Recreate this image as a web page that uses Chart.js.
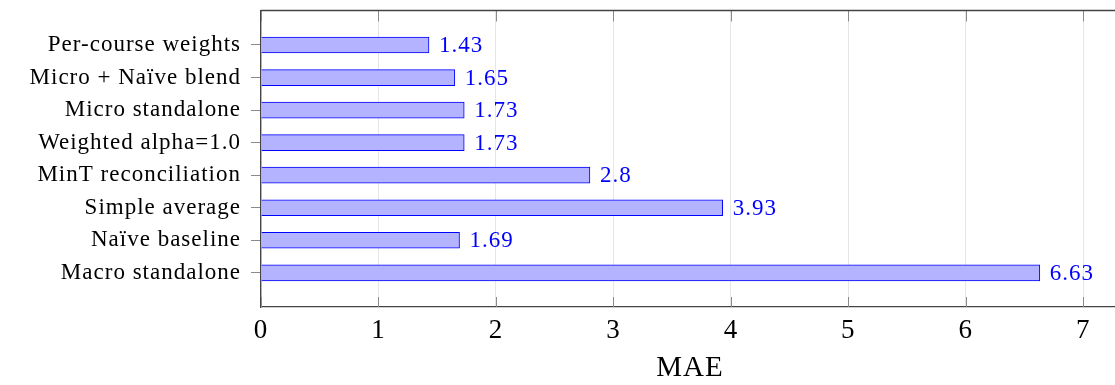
<!DOCTYPE html>
<html><head><meta charset="utf-8">
<script src="https://cdn.jsdelivr.net/npm/chart.js@4/dist/chart.umd.min.js"></script>
<style>html,body{margin:0;padding:0;background:#fff;overflow:hidden}#wrap{width:1115px;height:385px;position:relative}</style>
</head><body><div id="wrap"><canvas id="c"></canvas></div>
<script>
// MAE per forecasting method (top to bottom)
const methods = ['Per-course weights', 'Micro + Naïve blend', 'Micro standalone', 'Weighted alpha=1.0',
                 'MinT reconciliation', 'Simple average', 'Naïve baseline', 'Macro standalone'];
const maeValues = [1.43, 1.65, 1.73, 1.73, 2.8, 3.93, 1.69, 6.63];
const maeLabels = ['1.43', '1.65', '1.73', '1.73', '2.8', '3.93', '1.69', '6.63'];
const xTickValues = [0, 1, 2, 3, 4, 5, 6, 7];
const xTitle = 'MAE';

const SERIF = '"Liberation Serif", "DejaVu Serif", serif';
const AXIS = '#444';
const TICK = '#8a8a8a';

// slightly wider text setting for every label on the canvas
const textSpacing = {
  id: 'textSpacing',
  beforeDraw(chart) { chart.ctx.letterSpacing = '1px'; }
};

// box top edge, inner x ticks, value labels and axis title
const decorations = {
  id: 'decorations',
  afterDatasetsDraw(chart) {
    const ctx = chart.ctx, a = chart.chartArea, xs = chart.scales.x;
    ctx.save();
    // inner tick marks on bottom and top edges
    ctx.strokeStyle = TICK; ctx.lineWidth = 1;
    xTickValues.forEach(v => {
      const px = Math.round(xs.getPixelForValue(v)) + 0.5;
      ctx.beginPath(); ctx.moveTo(px, a.bottom); ctx.lineTo(px, a.bottom - 10); ctx.stroke();
      ctx.beginPath(); ctx.moveTo(px, a.top); ctx.lineTo(px, a.top + 11); ctx.stroke();
    });
    // top edge of the box
    ctx.strokeStyle = AXIS; ctx.lineWidth = 1.3;
    ctx.beginPath(); ctx.moveTo(a.left, a.top); ctx.lineTo(chart.width, a.top); ctx.stroke();
    // value labels at bar ends
    ctx.fillStyle = '#0000ff';
    ctx.font = '23px ' + SERIF;
    ctx.textBaseline = 'middle'; ctx.textAlign = 'left';
    const meta = chart.getDatasetMeta(0);
    meta.data.forEach((bar, i) => {
      ctx.fillText(maeLabels[i], bar.x + 10, bar.y + 1);
    });
    // axis title
    ctx.fillStyle = '#000';
    ctx.font = '29px ' + SERIF;
    ctx.textAlign = 'center'; ctx.textBaseline = 'alphabetic';
    ctx.fillText(xTitle, 690, 376);
    ctx.restore();
  }
};

new Chart(document.getElementById('c'), {
  type: 'bar',
  data: {
    datasets: [{
      data: maeValues.map((v, i) => ({ x: v, y: i })),
      backgroundColor: '#b3b3ff',
      borderColor: '#0000ff',
      borderWidth: 1,
      barThickness: 16
    }]
  },
  options: {
    indexAxis: 'y',
    responsive: true,
    maintainAspectRatio: false,
    animation: false,
    devicePixelRatio: 1,
    layout: { padding: { top: 10.5, right: 0, left: 0, bottom: 0 } },
    plugins: { legend: { display: false }, tooltip: { enabled: false } },
    scales: {
      x: {
        type: 'linear', min: 0, max: 7.27,
        afterBuildTicks: s => { s.ticks = xTickValues.map(v => ({ value: v })); },
        afterFit: s => { s.height = 78; s.paddingLeft = 0; s.paddingRight = 0; },
        grid: { color: '#e6e6e6', lineWidth: 1, drawTicks: false },
        border: { color: AXIS, width: 1.3 },
        ticks: { color: '#000', padding: 8, font: { family: SERIF, size: 27 }, maxRotation: 0 }
      },
      y: {
        type: 'linear', reverse: true, offset: false, min: -1.06, max: 8.05,
        afterBuildTicks: s => { s.ticks = methods.map((_, i) => ({ value: i })); },
        afterFit: s => { s.width = 261; s.paddingTop = 0; s.paddingBottom = 0; },
        grid: { offset: false, drawOnChartArea: false, drawTicks: true, tickLength: 10, color: TICK },
        border: { color: AXIS, width: 1.3 },
        ticks: { color: '#000', padding: 10, font: { family: SERIF, size: 23 },
                 callback: v => methods[Math.round(v)] }
      }
    }
  },
  plugins: [textSpacing, decorations]
});
</script>
</body></html>
